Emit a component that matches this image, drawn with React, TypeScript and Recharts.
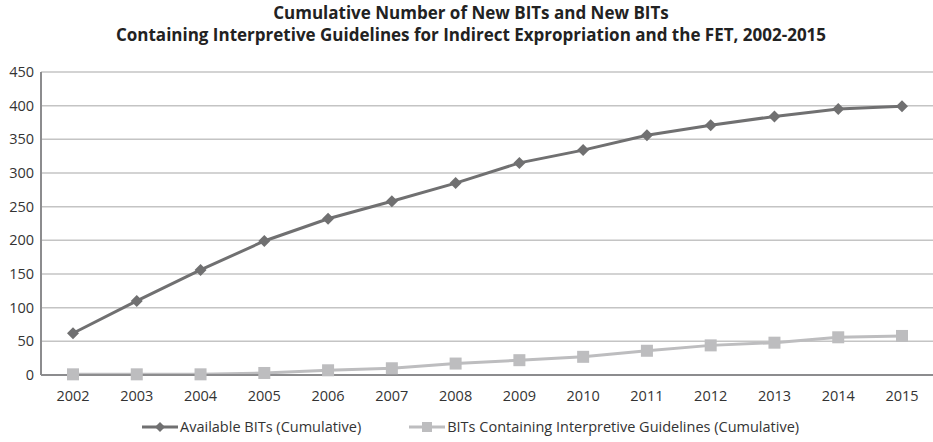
import { LineChart, Line, XAxis, YAxis, CartesianGrid } from 'recharts'

const years = ['2002', '2003', '2004', '2005', '2006', '2007', '2008', '2009', '2010', '2011', '2012', '2013', '2014', '2015']
const availableBits = [62, 110, 156, 199, 232, 258, 285, 315, 334, 356, 371, 384, 395, 399]
const guidelineBits = [1, 1, 1, 3, 7, 10, 17, 22, 27, 36, 44, 48, 56, 58]
const yTicks = [0, 50, 100, 150, 200, 250, 300, 350, 400, 450]

const seriesNames = ['Available BITs (Cumulative)', 'BITs Containing Interpretive Guidelines (Cumulative)']

const data = years.map((year, i) => ({
  year,
  available: availableBits[i],
  guidelines: guidelineBits[i],
}))

const DARK = '#707071'
const LIGHT = '#bdbdbf'
const FONT = '"Open Sans", sans-serif'

const Diamond = (props: any) => {
  const { cx, cy } = props
  if (cx == null || cy == null) return null
  const r = 6
  return (
    <polygon
      points={`${cx},${cy - r} ${cx + r},${cy} ${cx},${cy + r} ${cx - r},${cy}`}
      fill={DARK}
    />
  )
}

const Square = (props: any) => {
  const { cx, cy } = props
  if (cx == null || cy == null) return null
  const s = 6
  return <rect x={cx - s} y={cy - s} width={s * 2} height={s * 2} fill={LIGHT} />
}

const LegendItem = ({ color, label, square }: { color: string; label: string; square?: boolean }) => (
  <span style={{ display: 'inline-flex', alignItems: 'center' }}>
    <svg width={36} height={14}>
      <line x1={0} y1={7} x2={36} y2={7} stroke={color} strokeWidth={3} />
      {square ? (
        <rect x={13} y={2} width={10} height={10} fill={color} />
      ) : (
        <polygon points='18,2 23,7 18,12 13,7' fill={color} />
      )}
    </svg>
    <span style={{ marginLeft: 2 }}>{label}</span>
  </span>
)

const App = () => {
  return (
    <div style={{ position: 'absolute', left: 0, top: 0, width: 933, height: 442, background: '#fff', fontFamily: FONT }}>
      {/* Title */}
      <div
        style={{
          position: 'absolute',
          top: 2,
          left: 0,
          width: 942,
          textAlign: 'center',
          fontWeight: 700,
          fontSize: 17,
          lineHeight: '22px',
          color: '#222',
          whiteSpace: 'nowrap',
        }}
      >
        Cumulative Number of New BITs and New BITs
        <br />
        Containing Interpretive Guidelines for Indirect Expropriation and the FET, 2002-2015
      </div>

      <LineChart
        width={933}
        height={442}
        data={data}
        margin={{ top: 72, right: 0, left: 0, bottom: 37 }}
        style={{ position: 'absolute', left: 0, top: 0 }}
      >
        <CartesianGrid vertical={false} stroke='#c4c4c4' strokeWidth={1.5} />
        <XAxis
          dataKey='year'
          stroke='#8c8c8e'
          strokeWidth={2}
          tickLine={false}
          tickSize={0}
          tickMargin={16}
          height={30}
          padding={{ left: 32, right: 31 }}
          tick={{ fill: '#333', fontSize: 14.5, fontFamily: FONT }}
          interval={0}
        />
        <YAxis
          domain={[0, 450]}
          ticks={yTicks}
          width={41}
          stroke='#8c8c8e'
          strokeWidth={2}
          tickLine={false}
          tickSize={0}
          tickMargin={7}
          tick={{ fill: '#333', fontSize: 14.5, fontFamily: FONT }}
          interval={0}
        />
        <Line
          dataKey='guidelines'
          name={seriesNames[1]}
          stroke={LIGHT}
          strokeWidth={3}
          dot={<Square />}
          isAnimationActive={false}
        />
        <Line
          dataKey='available'
          name={seriesNames[0]}
          stroke={DARK}
          strokeWidth={3}
          dot={<Diamond />}
          isAnimationActive={false}
        />
      </LineChart>

      {/* Legend */}
      <div
        style={{
          position: 'absolute',
          top: 417,
          left: 142,
          fontSize: 14.5,
          color: '#333',
          display: 'flex',
          gap: 48,
          whiteSpace: 'nowrap',
        }}
      >
        <LegendItem color={DARK} label={seriesNames[0]} />
        <LegendItem color={LIGHT} label={seriesNames[1]} square />
      </div>
    </div>
  )
}

export default App
